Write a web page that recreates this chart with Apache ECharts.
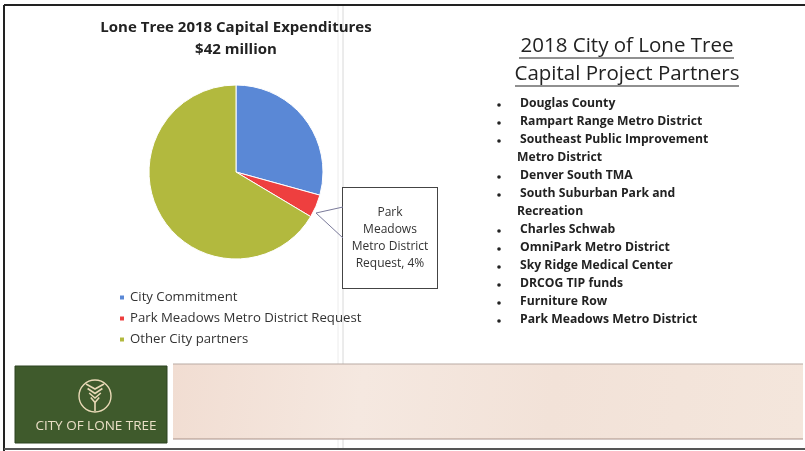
<!DOCTYPE html>
<html>
<head>
<meta charset="utf-8">
<script src="https://cdn.jsdelivr.net/npm/echarts@6/dist/echarts.min.js"></script>
<style>html,body{margin:0;padding:0;background:#fff;}#c{width:805px;height:451px;}</style>
</head>
<body>
<div id="c"></div>
<script>
var categories = ['City Commitment', 'Park Meadows Metro District Request', 'Other City partners'];
var values = [12.3, 1.8, 27.9];
var colors = ['#5a88d6', '#ee3f3f', '#b2b93e'];
var chartTitle = 'Lone Tree 2018 Capital Expenditures';
var chartSubtitle = '$42 million';
var partnersTitle = ['2018 City of Lone Tree', 'Capital Project Partners'];
var partners = [
  ['Douglas County'],
  ['Rampart Range Metro District'],
  ['Southeast Public Improvement', 'Metro District'],
  ['Denver South TMA'],
  ['South Suburban Park and', 'Recreation'],
  ['Charles Schwab'],
  ['OmniPark Metro District'],
  ['Sky Ridge Medical Center'],
  ['DRCOG TIP funds'],
  ['Furniture Row'],
  ['Park Meadows Metro District']
];

var FONT = '"Open Sans", "Noto Sans", sans-serif';
var chart = echarts.init(document.getElementById('c'), null, {width: 805, height: 451});

var graphics = [];
// slide frame and scan fold
graphics.push({type: 'line', shape: {x1: 4, y1: 5, x2: 805, y2: 5}, style: {stroke: '#222', lineWidth: 2}, z: 10});
graphics.push({type: 'line', shape: {x1: 4, y1: 5, x2: 4, y2: 451}, style: {stroke: '#222', lineWidth: 2}, z: 10});
graphics.push({type: 'line', shape: {x1: 4, y1: 449, x2: 805, y2: 449}, style: {stroke: '#555', lineWidth: 2}, z: 10});
graphics.push({type: 'line', shape: {x1: 338, y1: 6, x2: 338, y2: 448}, style: {stroke: '#ececec', lineWidth: 1}, z: 0});
graphics.push({type: 'line', shape: {x1: 343, y1: 6, x2: 343, y2: 448}, style: {stroke: '#d8d8d8', lineWidth: 1}, z: 0});

// partners heading
partnersTitle.forEach(function (t, i) {
  graphics.push({type: 'text', x: 627, y: 46 + i * 28, style: {text: t, font: '20.5px ' + FONT, fill: '#222', align: 'center', verticalAlign: 'middle'}});
});
graphics.push({type: 'line', shape: {x1: 519, y1: 58, x2: 734, y2: 58}, style: {stroke: '#222', lineWidth: 1.2}});
graphics.push({type: 'line', shape: {x1: 515, y1: 86, x2: 739, y2: 86}, style: {stroke: '#222', lineWidth: 1.2}});

// bullet list
var ly = 104;
partners.forEach(function (p) {
  graphics.push({type: 'circle', shape: {cx: 499, cy: ly + 1, r: 1.8}, style: {fill: '#222'}});
  p.forEach(function (line, j) {
    graphics.push({type: 'text', x: j === 0 ? 520 : 517, y: ly, style: {text: line, font: 'bold 12.2px ' + FONT, fill: '#222', verticalAlign: 'middle'}});
    ly += 18;
  });
});

// bottom banner
graphics.push({type: 'rect', shape: {x: 173, y: 364, width: 630, height: 75}, style: {
  fill: new echarts.graphic.LinearGradient(0, 0, 1, 1, [
    {offset: 0, color: '#f1ddd2'}, {offset: 0.3, color: '#f5e8e0'}, {offset: 0.6, color: '#f2e2d8'}, {offset: 1, color: '#f4e6dc'}])
}});
graphics.push({type: 'line', shape: {x1: 173, y1: 364, x2: 803, y2: 364}, style: {stroke: '#b9aaa3', lineWidth: 1}});
graphics.push({type: 'line', shape: {x1: 173, y1: 439, x2: 803, y2: 439}, style: {stroke: '#a89087', lineWidth: 1}});
graphics.push({type: 'rect', shape: {x: 15, y: 366, width: 152, height: 77}, style: {fill: '#3f5a2c', stroke: '#2d4220', lineWidth: 1}});
graphics.push({type: 'circle', shape: {cx: 95, cy: 396, r: 16}, style: {fill: 'none', stroke: '#e9d9b6', lineWidth: 1.4}});
[0, 1, 2, 3].forEach(function (k) {
  var yy = 387 + k * 4.5, w = 9 - k * 1.6;
  graphics.push({type: 'polyline', shape: {points: [[95 - w, yy - 3], [95, yy + 2], [95 + w, yy - 3]]}, style: {stroke: '#e9d9b6', lineWidth: 1.6, fill: 'none'}});
});
graphics.push({type: 'line', shape: {x1: 95, y1: 403, x2: 95, y2: 411}, style: {stroke: '#e9d9b6', lineWidth: 1.6}});
graphics.push({type: 'text', x: 96, y: 426, style: {text: 'CITY OF LONE TREE', font: '13.5px ' + FONT, fill: '#eadfc6', align: 'center', verticalAlign: 'middle'}});

// callout pointer (wedge to label box)
graphics.push({type: 'polyline', shape: {points: [[343, 207], [316, 213], [343, 238]]}, style: {stroke: '#7a7a9a', lineWidth: 1, fill: 'none'}, z: 5});

var data = categories.map(function (c, i) {
  return {
    name: c, value: values[i], itemStyle: {color: colors[i]},
    label: {show: i === 1},
    labelLine: {show: false}
  };
});

chart.setOption({
  animation: false,
  backgroundColor: '#fff',
  title: {
    text: chartTitle + '\n' + chartSubtitle,
    left: 231, top: 12, textAlign: 'center',
    textStyle: {fontFamily: FONT, fontWeight: 'bold', fontSize: 15, color: '#222', lineHeight: 22}
  },
  legend: {
    orient: 'vertical', left: 113, top: 286,
    itemWidth: 6, itemHeight: 6, itemGap: 8, icon: 'rect',
    textStyle: {fontFamily: FONT, fontSize: 13.2, color: '#333'},
    data: categories
  },
  graphic: graphics,
  series: [{
    type: 'pie',
    center: [236, 172],
    radius: 87,
    startAngle: 90,
    clockwise: true,
    avoidLabelOverlap: false,
    itemStyle: {borderColor: '#fff', borderWidth: 1},
    label: {
      position: 'outside',
      formatter: function (p) {
        var w = p.name.split(' ');
        return w[0] + '\n' + w[1] + '\n' + w[2] + ' ' + w[3] + '\n' + w[4] + ', ' + Math.round(p.percent) + '%';
      },
      fontFamily: FONT, fontSize: 12, color: '#333', lineHeight: 17, align: 'center',
      backgroundColor: '#fff', borderColor: '#444', borderWidth: 1,
      width: 80, padding: [17, 7, 15, 7]
    },
    labelLayout: function () {
      return {x: 390, y: 238, align: 'center', verticalAlign: 'middle'};
    },
    data: data
  }]
});
</script>
</body>
</html>
